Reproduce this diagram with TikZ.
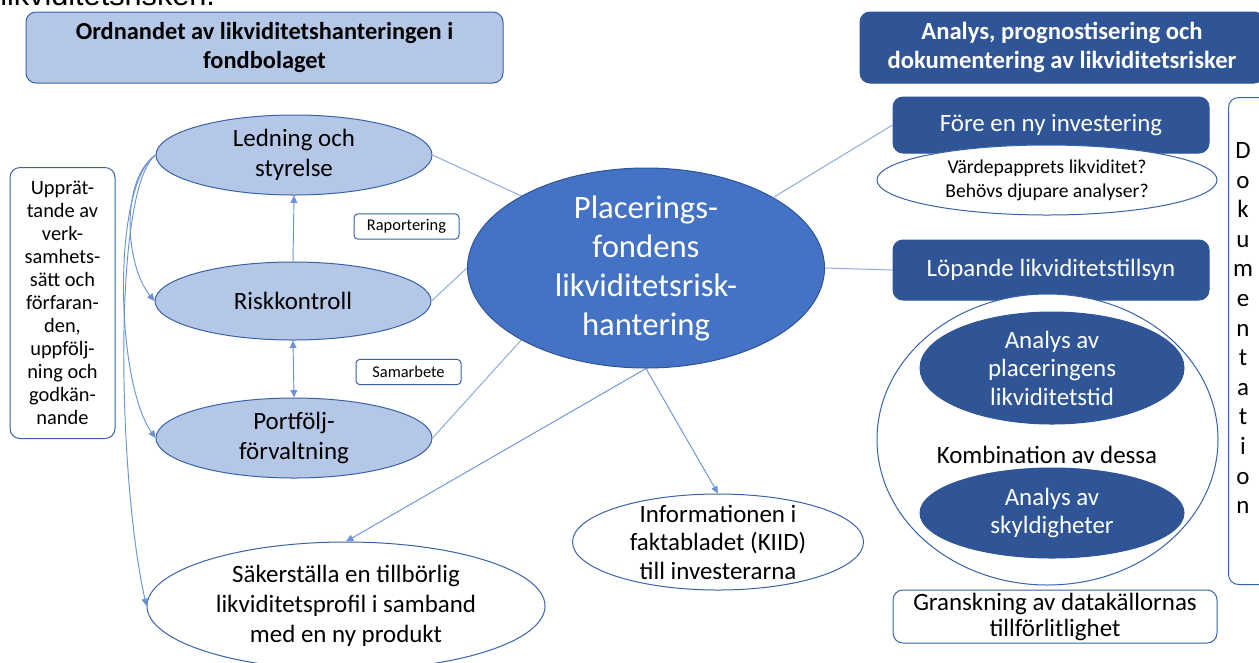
\documentclass[tikz,border=0pt]{standalone}
\usepackage{fontspec}
\setmainfont{Carlito}
\newfontfamily\cutfont{Liberation Sans}
\usetikzlibrary{shapes.geometric,arrows.meta}
\definecolor{lightfill}{HTML}{B4C7E7}
\definecolor{midblue}{HTML}{4472C4}
\definecolor{darkblue}{HTML}{2F5597}
\definecolor{edgeblue}{HTML}{3A62A8}
\definecolor{linkblue}{HTML}{8FAADC}
\definecolor{arrowblue}{HTML}{6A92D4}
\tikzset{
  base/.style={inner sep=0pt, align=center, line width=0.75pt},
  lightell/.style={base, ellipse, draw=edgeblue, fill=lightfill, inner sep=-10pt,
    minimum width=207pt, minimum height=60pt, font=\fontsize{18.7}{22.5}\selectfont},
  whiteell/.style={base, ellipse, draw=edgeblue, fill=white, inner sep=-12pt},
  darkell/.style={base, ellipse, draw=darkblue, fill=darkblue, text=white, inner sep=-12pt,
    minimum width=198pt, font=\fontsize{18.7}{21.4}\selectfont},
  darkbox/.style={base, rectangle, rounded corners=7.5pt, draw=darkblue, fill=darkblue, text=white},
  whitebox/.style={base, rectangle, rounded corners=7.5pt, draw=edgeblue, fill=white},
  tagbox/.style={base, rectangle, rounded corners=3pt, draw=edgeblue, fill=white,
    minimum width=78.75pt, minimum height=19pt, font=\fontsize{12.3}{14}\selectfont},
  link/.style={draw=linkblue, line width=0.75pt},
  arr/.style={draw=arrowblue, line width=0.7pt, -{Triangle[width=5pt,length=5.5pt]}},
  dblarr/.style={draw=arrowblue, line width=0.7pt, {Triangle[width=5pt,length=5.5pt]}-{Triangle[width=5pt,length=5.5pt]}}
}
\begin{document}
\begin{tikzpicture}[x=0.75pt,y=-0.75pt]
\useasboundingbox (0,0) rectangle (1259,662);
\clip (0,0) rectangle (1259,662);
\fill[white] (0,0) rectangle (1259,662);

% cut-off text at the top
\node[anchor=base west, inner sep=0pt, font=\cutfont\fontsize{23}{28}\selectfont] (cut) at (0,5) {likviditetsrisken.};

% titles
\node[base, rectangle, rounded corners=7.5pt, draw=edgeblue, fill=lightfill,
  minimum width=357.75pt, minimum height=53.25pt, font=\bfseries\fontsize{18.3}{21.5}\selectfont]
  (tl) at (264.5,47.5) {Ordnandet av likviditetshanteringen i\\fondbolaget};
\node[darkbox, minimum width=303pt, minimum height=53.25pt, font=\bfseries\fontsize{18.5}{21.5}\selectfont]
  (tr) at (1062,47.5) {Analys, prognostisering och\\dokumentering av likviditetsrisker};

% left column
\node[whitebox, minimum width=78.75pt, minimum height=203.25pt, font=\fontsize{15.3}{17.25}\selectfont]
  (upp) at (62.5,303) {Upprät-\\tande av\\verk-\\samhets-\\sätt och\\förfaran-\\den,\\uppfölj-\\ning och\\godkän-\\nande};

\node[lightell] (led) at (294,155) {Ledning och\\styrelse};
\node[lightell, minimum height=58.5pt] (risk) at (293,301) {Riskkontroll};
\node[lightell] (port) at (294,438) {Portfölj-\\förvaltning};

\node[tagbox] (rap) at (406.5,226.5) {Raportering};
\node[tagbox] (sam) at (408.5,372) {Samarbete};

% centre
\node[base, ellipse, draw=darkblue, fill=midblue, text=white, inner sep=-14pt,
  minimum width=267.75pt, minimum height=150pt, font=\fontsize{24.5}{29.25}\selectfont]
  (cen) at (646,268) {Placerings-\\fondens\\likviditetsrisk-\\hantering};

\node[whiteell, minimum width=298.5pt, minimum height=96pt, font=\fontsize{18.7}{22.5}\selectfont]
  (sak) at (346,606) {Säkerställa en tillbörlig\\likviditetsprofil i samband\\med en ny produkt};
\node[whiteell, minimum width=218.25pt, minimum height=72pt, font=\fontsize{18.7}{21.4}\selectfont]
  (info) at (718,542) {Informationen i\\faktabladet (KIID)\\till investerarna};

% right column
\node[darkbox, minimum width=237pt, minimum height=42pt, font=\fontsize{18.7}{20}\selectfont]
  (fore) at (1051,125) {Före en ny investering};
\node[whiteell, minimum width=255pt, minimum height=52.5pt, font=\fontsize{14.7}{18}\selectfont]
  (vard) at (1047,180) {Värdepapprets likviditet?\\Behövs djupare analyser?};
\node[darkbox, minimum width=237pt, minimum height=45pt, font=\fontsize{18.7}{20}\selectfont]
  (lop) at (1051,270) {Löpande likviditetstillsyn};
\node[whiteell, minimum width=255.75pt, minimum height=218.25pt] (big) at (1047.5,439.5) {};
\node[darkell, minimum height=84pt] (plac) at (1052,368) {Analys av\\placeringens\\likviditetstid};
\node[base, font=\fontsize{18.7}{20}\selectfont] (komb) at (1047,455) {Kombination av dessa};
\node[darkell, minimum height=67.5pt] (sky) at (1052,513) {Analys av\\skyldigheter};
\node[whitebox, minimum width=243pt, minimum height=39.75pt, font=\fontsize{18.7}{19.5}\selectfont]
  (gran) at (1055,616.5) {Granskning av datakällornas\\tillförlitlighet};

\node[whitebox, anchor=north west, minimum width=40pt, minimum height=365.25pt] (dok) at (1228,97) {};
\node[base, font=\fontsize{18.7}{22.2}\selectfont] (dokt) at (1243,328) {D\\o\\k\\u\\m\\e\\n\\t\\a\\t\\i\\o\\n};

% connectors
\draw[link] (led.east) -- (cen.150);
\draw[link] (risk.east) -- (cen.west);
\draw[link] (port.east) -- (cen.210);
\draw[link] (cen.29) -- (fore.west);
\draw[link] (cen.east) -- (lop.west);
\draw[arr] (cen.south) -- (sak.north);
\draw[arr] (cen.south) -- (info.north);
\draw[arr] (risk.north) -- (led.south);
\draw[dblarr] (risk.south) -- (port.north);
\draw[arr] (led.west) .. controls (120,180) and (125,265) .. (risk.west);
\draw[arr] (led.west) .. controls (112,185) and (115,380) .. (port.west);
\draw[arr] (led.west) .. controls (112,190) and (118,480) .. (sak.west);
\end{tikzpicture}
\end{document}
